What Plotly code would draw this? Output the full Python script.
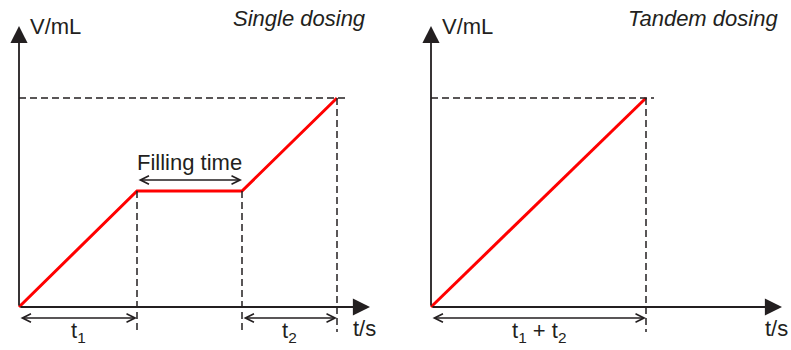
import plotly.graph_objects as go

# schematic values (t in arbitrary s units, V in arbitrary mL units)
single_t = [0, 1.18, 2.23, 3.18]
single_v = [0, 1.16, 1.16, 2.09]
tandem_t = [0, 2.15]
tandem_v = [0, 2.09]

panel_titles = ["Single dosing", "Tandem dosing"]
y_label = "V/mL"
x_label = "t/s"

INK = "#231f20"
RED = "#ff0000"
FONT = "Arial, Liberation Sans, sans-serif"

x_tip = 3.51
y_tip = 2.81
dash_low = -0.25
arrow_y = -0.11

fig = go.Figure()
fig.add_trace(go.Scatter(x=single_t, y=single_v, mode="lines",
                         line=dict(color=RED, width=3), xaxis="x", yaxis="y"))
fig.add_trace(go.Scatter(x=tandem_t, y=tandem_v, mode="lines",
                         line=dict(color=RED, width=3), xaxis="x2", yaxis="y2"))

shapes = []
annotations = []


def dashed(xref, yref, x0, y0, x1, y1):
    shapes.append(dict(type="line", xref=xref, yref=yref, x0=x0, y0=y0, x1=x1, y1=y1,
                       line=dict(color=INK, width=1.5, dash="7px,4px")))


def arrow(xref, yref, x, y, ax, ay, both=False, head=2, size=1.0, width=1.3):
    annotations.append(dict(xref=xref, yref=yref, axref=xref, ayref=yref,
                            x=x, y=y, ax=ax, ay=ay, text="", showarrow=True,
                            arrowhead=head, arrowsize=size, arrowwidth=width,
                            arrowcolor=INK, standoff=0, startstandoff=0,
                            arrowside="end+start" if both else "end",
                            startarrowhead=head, startarrowsize=size))


def label(xref, yref, x, y, text, xanchor="center", italic=False, size=22):
    annotations.append(dict(xref=xref, yref=yref, x=x, y=y, text=text,
                            showarrow=False, xanchor=xanchor, yanchor="middle",
                            font=dict(family=FONT, size=size, color=INK,
                                      style="italic" if italic else "normal")))


panels = [("x", "y", single_t, single_v), ("x2", "y2", tandem_t, tandem_v)]
for i, (xr, yr, ts, vs) in enumerate(panels):
    vmax = max(vs)
    tend = ts[-1]
    # axes with arrow heads
    arrow(xr, yr, x_tip, 0, 0, 0, head=2, size=1.9, width=1.8)
    arrow(xr, yr, 0, y_tip, 0, 0, head=2, size=1.9, width=1.8)
    # dashed guides
    dashed(xr, yr, 0, vmax, tend + 0.08, vmax)
    for k in range(1, len(ts)):
        dashed(xr, yr, ts[k], vs[k], ts[k], dash_low)
    label(xr, yr, 0.09, y_tip, y_label, xanchor="left")
    label(xr, yr, 3.49, 2.89, panel_titles[i], xanchor="right", italic=True)
    label(xr, yr, x_tip - 0.06, -0.21, x_label)

# single dosing: t1, filling time, t2
dbl = dict(both=True, head=5, size=1.3, width=1.3)
arrow("x", "y", single_t[1], arrow_y, single_t[0], arrow_y, **dbl)
arrow("x", "y", single_t[3], arrow_y, single_t[2], arrow_y, **dbl)
arrow("x", "y", single_t[2], single_v[1] + 0.11, single_t[1], single_v[1] + 0.11, **dbl)
label("x", "y", (single_t[0] + single_t[1]) / 2, -0.25, "t<sub>1</sub>")
label("x", "y", (single_t[2] + single_t[3]) / 2, -0.25, "t<sub>2</sub>")
label("x", "y", (single_t[1] + single_t[2]) / 2, single_v[1] + 0.29, "Filling time")

# tandem dosing: t1 + t2
arrow("x2", "y2", tandem_t[1], arrow_y, tandem_t[0], arrow_y, **dbl)
label("x2", "y2", (tandem_t[0] + tandem_t[1]) / 2, -0.25, "t<sub>1</sub> + t<sub>2</sub>")

hidden = dict(visible=False, fixedrange=True)
fig.update_layout(
    width=791, height=350,
    margin=dict(l=0, r=0, t=0, b=0),
    paper_bgcolor="white", plot_bgcolor="white",
    showlegend=False,
    xaxis=dict(domain=[0, 0.5], range=[-0.19, 3.765], **hidden),
    xaxis2=dict(domain=[0.5, 1], range=[-0.355, 3.6], **hidden),
    yaxis=dict(domain=[0, 1], range=[-0.43, 3.07], anchor="x", **hidden),
    yaxis2=dict(domain=[0, 1], range=[-0.43, 3.07], anchor="x2", **hidden),
    shapes=shapes,
    annotations=annotations,
)

fig.write_html("out.html", config=dict(displayModeBar=False),
               post_script="document.body.style.margin='0';")
